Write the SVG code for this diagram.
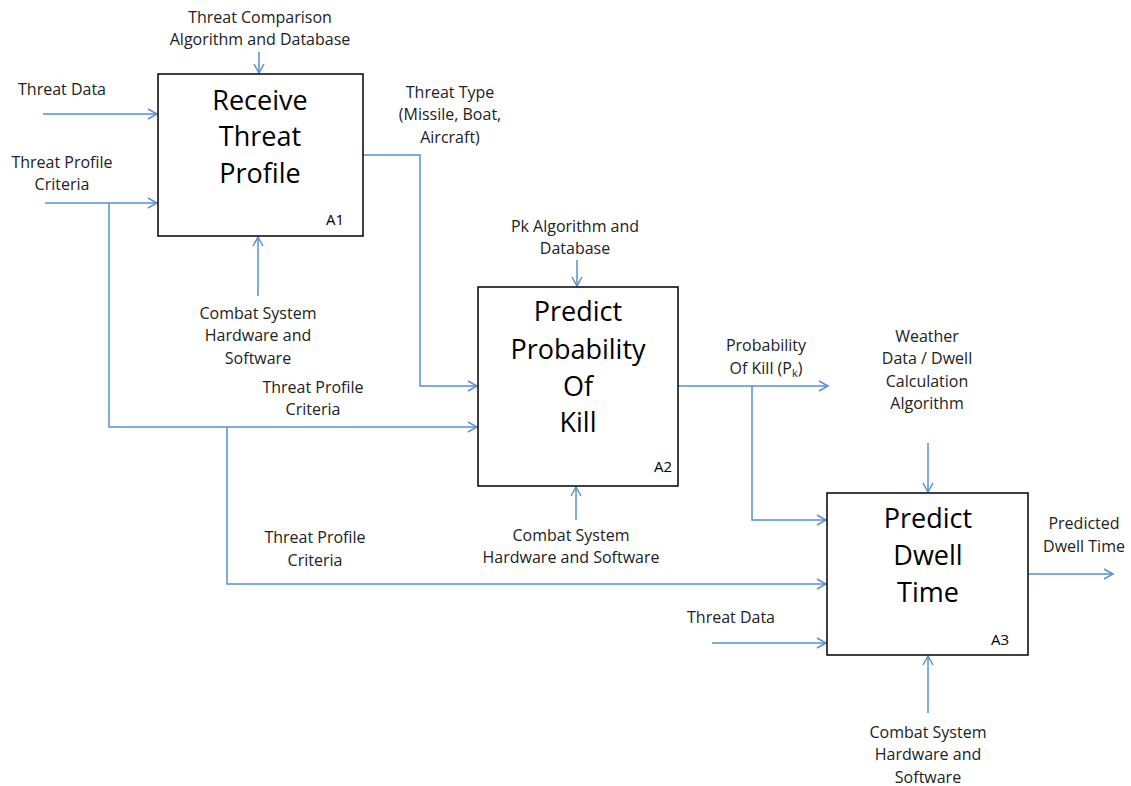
<svg xmlns="http://www.w3.org/2000/svg" width="1131" height="786" viewBox="0 0 1131 786">
<style>
.box{fill:#fff;stroke:#000;stroke-width:1.5}
.c{fill:none;stroke:#5b8fd4;stroke-width:1.5}
.t{font-family:"Open Sans","Liberation Sans",sans-serif;font-size:16px;fill:#222;text-anchor:middle}
.l{text-anchor:start}
.big{font-family:"Open Sans","Liberation Sans",sans-serif;font-size:27px;fill:#000;text-anchor:middle}
.id{font-family:"Open Sans","Liberation Sans",sans-serif;font-size:15px;fill:#000}
</style>
<defs>
<marker id="a" markerWidth="12" markerHeight="12" refX="10" refY="6" orient="auto" markerUnits="userSpaceOnUse">
<path d="M1,1 L10,6 L1,11" fill="none" stroke="#5b8fd4" stroke-width="1.5"/>
</marker>
</defs>
<g id="connectors">
<path class="c" d="M259,52 V73" marker-end="url(#a)"/>
<path class="c" d="M43,114 H157" marker-end="url(#a)"/>
<path class="c" d="M45,203 H157" marker-end="url(#a)"/>
<path class="c" d="M109,203 V427 H477" marker-end="url(#a)"/>
<path class="c" d="M227,427 V584 H826" marker-end="url(#a)"/>
<path class="c" d="M258,296 V237" marker-end="url(#a)"/>
<path class="c" d="M363,155 H420 V386 H477" marker-end="url(#a)"/>
<path class="c" d="M577,260 V286" marker-end="url(#a)"/>
<path class="c" d="M576,520 V487" marker-end="url(#a)"/>
<path class="c" d="M678,386 H828" marker-end="url(#a)"/>
<path class="c" d="M752,386 V520 H826" marker-end="url(#a)"/>
<path class="c" d="M928,443 V492" marker-end="url(#a)"/>
<path class="c" d="M712,643 H826" marker-end="url(#a)"/>
<path class="c" d="M1028,574 H1113" marker-end="url(#a)"/>
<path class="c" d="M928,713 V656" marker-end="url(#a)"/>
</g>
<g id="A1">
<rect class="box" x="158" y="74" width="205" height="162"/>
<text class="big" x="260" y="110">Receive</text>
<text class="big" x="260" y="146">Threat</text>
<text class="big" x="260" y="183">Profile</text>
<text class="id" x="326" y="225">A1</text>
</g>
<g id="A2">
<rect class="box" x="478" y="287" width="200" height="199"/>
<text class="big" x="578" y="321">Predict</text>
<text class="big" x="578" y="359">Probability</text>
<text class="big" x="578" y="396">Of</text>
<text class="big" x="578" y="432">Kill</text>
<text class="id" x="654" y="472">A2</text>
</g>
<g id="A3">
<rect class="box" x="827" y="493" width="201" height="162"/>
<text class="big" x="928" y="528">Predict</text>
<text class="big" x="928" y="565">Dwell</text>
<text class="big" x="928" y="602">Time</text>
<text class="id" x="991" y="645">A3</text>
</g>
<g id="labels">
<text class="t" x="260" y="23">Threat Comparison</text>
<text class="t" x="260" y="45">Algorithm and Database</text>
<text class="t l" x="18" y="95">Threat Data</text>
<text class="t" x="62" y="168">Threat Profile</text>
<text class="t" x="62" y="190">Criteria</text>
<text class="t" x="450" y="98">Threat Type</text>
<text class="t" x="450" y="120">(Missile, Boat,</text>
<text class="t" x="450" y="143">Aircraft)</text>
<text class="t" x="258" y="319">Combat System</text>
<text class="t" x="258" y="341">Hardware and</text>
<text class="t" x="258" y="364">Software</text>
<text class="t" x="313" y="393">Threat Profile</text>
<text class="t" x="313" y="415">Criteria</text>
<text class="t" x="575" y="232">Pk Algorithm and</text>
<text class="t" x="575" y="254">Database</text>
<text class="t" x="571" y="541">Combat System</text>
<text class="t" x="571" y="563">Hardware and Software</text>
<text class="t" x="766" y="351">Probability</text>
<text class="t" x="766" y="374">Of Kill (P<tspan font-size="11" dy="3">k</tspan><tspan dy="-3">)</tspan></text>
<text class="t" x="927" y="342">Weather</text>
<text class="t" x="927" y="364">Data / Dwell</text>
<text class="t" x="927" y="387">Calculation</text>
<text class="t" x="927" y="409">Algorithm</text>
<text class="t" x="1084" y="529">Predicted</text>
<text class="t" x="1084" y="552">Dwell Time</text>
<text class="t" x="315" y="543">Threat Profile</text>
<text class="t" x="315" y="566">Criteria</text>
<text class="t" x="731" y="623">Threat Data</text>
<text class="t" x="928" y="738">Combat System</text>
<text class="t" x="928" y="760">Hardware and</text>
<text class="t" x="928" y="783">Software</text>
</g>
</svg>
